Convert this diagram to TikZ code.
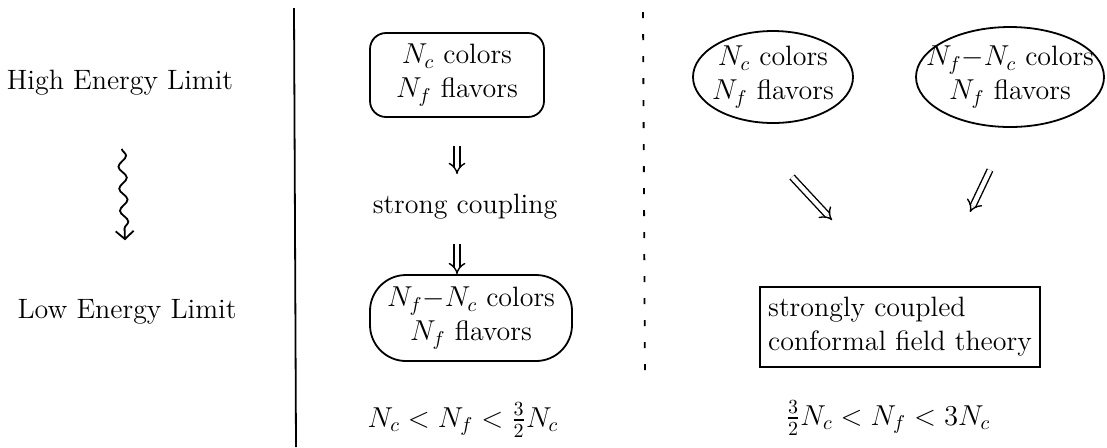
\documentclass[tikz,border=0pt]{standalone}
\usepackage{amsmath}
\usetikzlibrary{shapes.geometric,arrows.meta,decorations.pathmorphing,calc}
\begin{document}
\begin{tikzpicture}[x=0.5pt,y=-0.5pt,
  every node/.style={font=\fontsize{14}{17}\selectfont, align=center, inner sep=0pt},
  ink/.style={line width=0.9pt},
  roundbox/.style={draw, ink, rounded corners=#1},
  ovalbox/.style={draw, ink, ellipse, inner xsep=-12pt, inner ysep=-4pt},
  sqbox/.style={draw, ink, rectangle},
  dbl/.style={line width=0.7pt, double distance=2.2pt, -{Implies[length=5pt]}},
  wavy/.style={ink, decorate, decoration={snake, amplitude=2pt, segment length=11pt, post length=5pt},
    -{Straight Barb[length=4pt,width=9pt]}},
  divider/.style={ink},
  dashdivider/.style={ink, dash pattern=on 3pt off 8pt}]
\useasboundingbox (0,0) rectangle (1107,447);

% left column
\node (hi) at (120,83) {High Energy Limit};
\node (lo) at (127,312) {Low Energy Limit};
\draw[wavy] ($(hi.south)!0.26!(lo.north)$) -- ($(hi.south)!0.71!(lo.north)$);

% dividers
\draw[divider] (294,8) -- (296,447);
\draw[dashdivider] (643,12) -- (645,380);

% middle column
\node[roundbox=8pt, minimum width=87pt, minimum height=42pt] (b1) at (457,75) {$N_c$ colors\\$N_f$ flavors};
\node (sc) at (465,207) {strong coupling};
\node[roundbox=18pt, minimum width=101pt, minimum height=43pt] (b2) at (471,318) {$N_f{-}N_c$ colors\\$N_f$ flavors};
\node (r1) at (463,420) {$N_c < N_f < \tfrac{3}{2}N_c$};
\draw[dbl, shorten <=14pt, shorten >=10pt] (b1.south) -- (b1.south |- sc.north);
\draw[dbl, shorten <=12pt] (b1.south |- sc.south) -- (b1.south |- b2.north);

% right column
\node[ovalbox, minimum width=80pt, minimum height=46pt] (e1) at (773,77) {$N_c$ colors\\$N_f$ flavors};
\node[ovalbox, minimum width=94pt, minimum height=50pt] (e2) at (1010,77) {$N_f{-}N_c$ colors\\$N_f$ flavors};
\node[sqbox, minimum width=140pt, minimum height=40pt, align=left] (b3) at (900,327) {strongly coupled\\conformal field theory};
\node (r2) at (888,418) {$\tfrac{3}{2}N_c < N_f < 3N_c$};
\coordinate (a1s) at (792,177);
\coordinate (a1e) at (832,220);
\coordinate (a2s) at (990,170);
\coordinate (a2e) at (970,212);
\draw[dbl] (a1s) -- (a1e);
\draw[dbl] (a2s) -- (a2e);
\end{tikzpicture}
\end{document}
